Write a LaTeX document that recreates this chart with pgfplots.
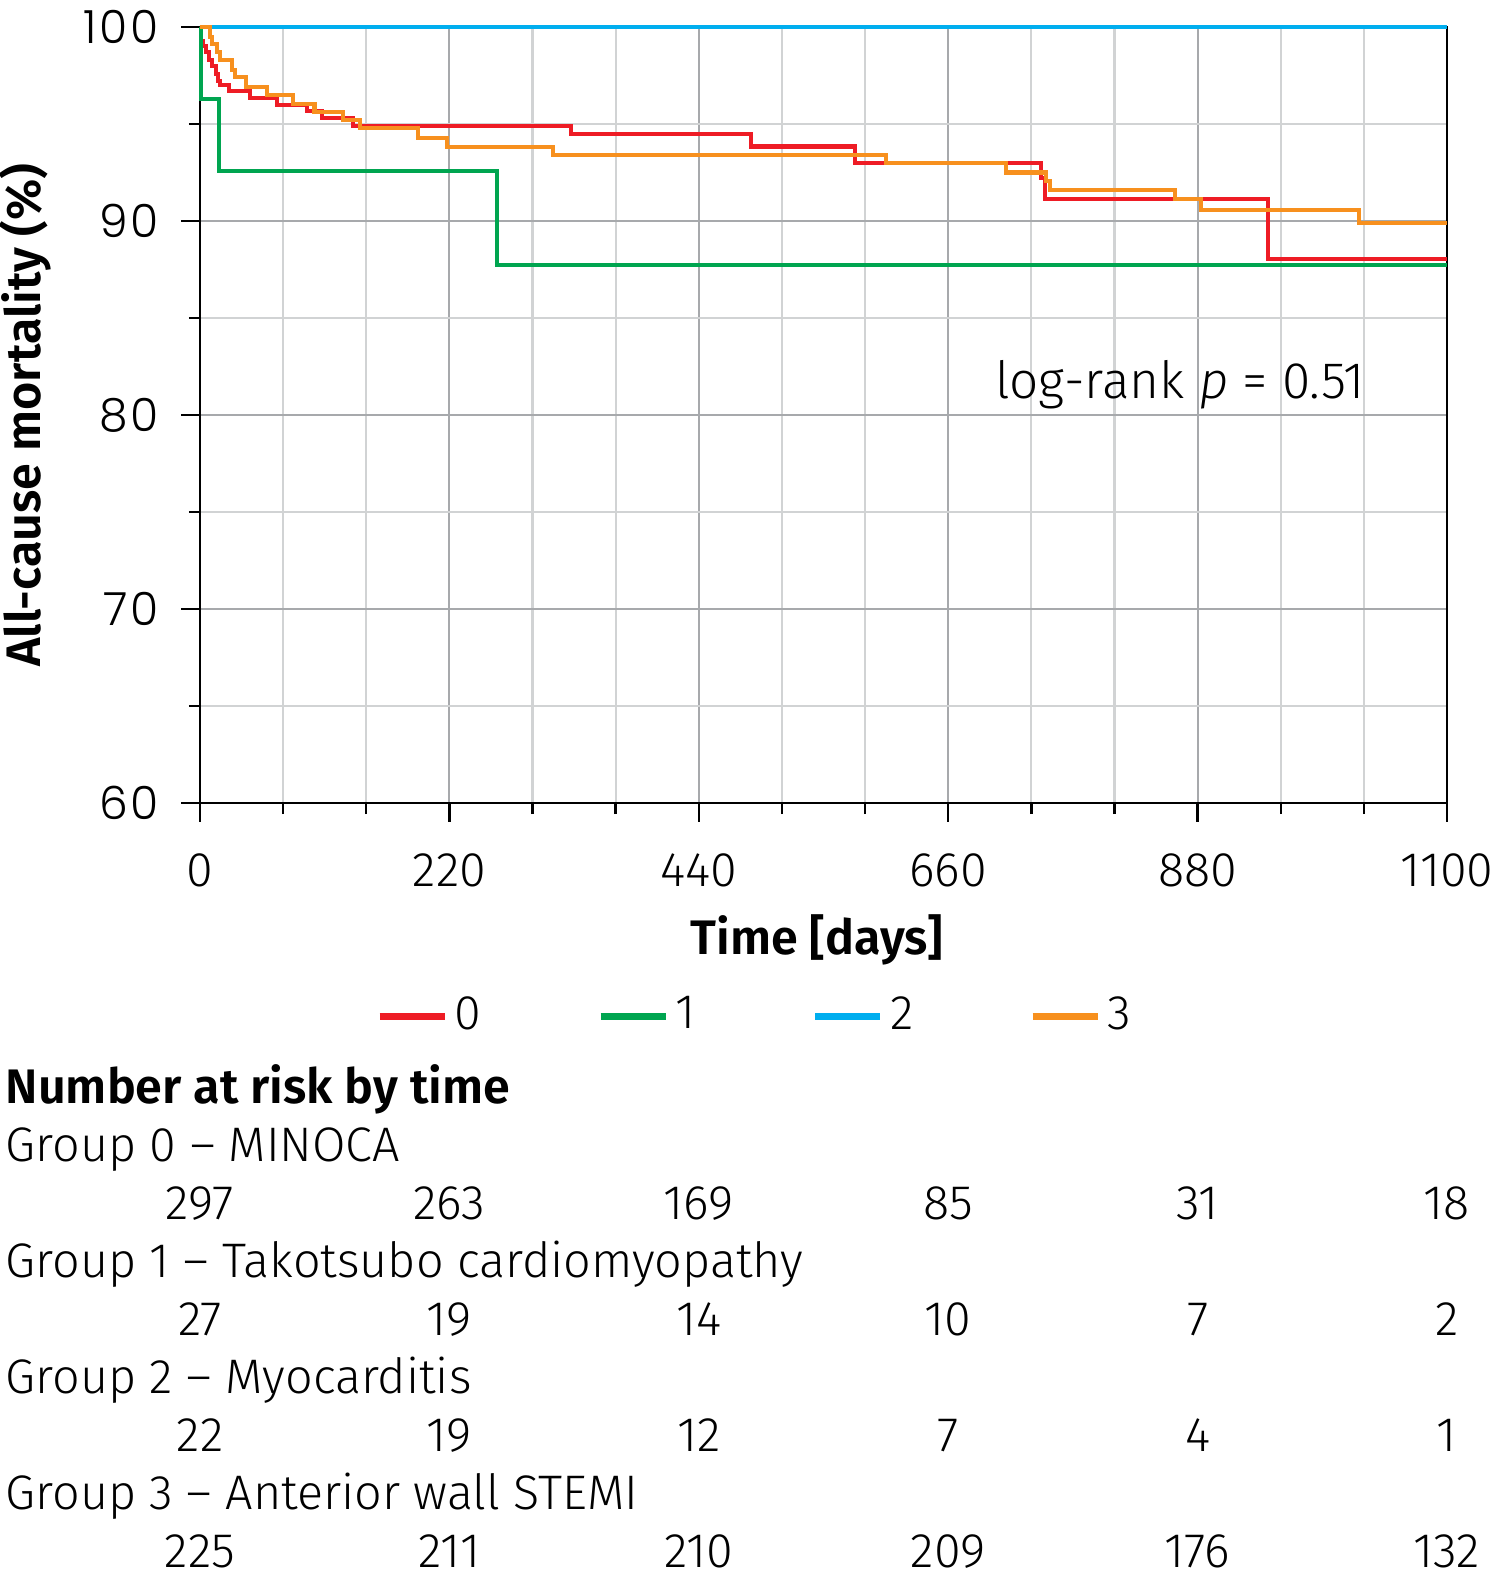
\documentclass[border=0pt]{standalone}
\usepackage{fontspec}
\setmainfont{Fira Sans Light}[BoldFont={Fira Sans SemiBold}, ItalicFont={Fira Sans Light Italic}]
\newfontfamily\ytfont{Poppins Light}[LetterSpace=6]
\usepackage{pgfplots}
\pgfplotsset{compat=1.18}
\definecolor{kmred}{HTML}{EE1C25}
\definecolor{kmgreen}{HTML}{00A550}
\definecolor{kmblue}{HTML}{00AEEF}
\definecolor{kmorange}{HTML}{F7901E}
\definecolor{gridmaj}{HTML}{A7A9AC}
\definecolor{gridmin}{HTML}{D1D3D4}
\begin{document}
\fontsize{13.8}{16}\selectfont
\begin{tikzpicture}
\useasboundingbox (0,0) rectangle (15cm,-15.69cm);
\clip (0,0) rectangle (15cm,-15.69cm);
\begin{axis}[
  at={(2.00cm,-0.27cm)}, anchor=north west,
  width=12.47cm, height=7.76cm, scale only axis,
  xmin=0, xmax=1100, ymin=60, ymax=100,
  clip=false,
  xtick={0,220,440,660,880,1100},
  minor xtick={73.333,146.667,293.333,366.667,513.333,586.667,733.333,806.667,953.333,1026.667},
  ytick={60,70,80,90,100},
  minor ytick={65,75,85,95},
  grid=both,
  major grid style={draw=gridmaj, line width=0.6pt},
  minor grid style={draw=gridmin, line width=0.6pt},
  tick align=outside, tick pos=left,
  major tick length=0.185cm, minor tick length=0.11cm,
  axis line style={line width=0.7pt, black},
  every tick/.style={black, line width=0.7pt},
  /pgf/number format/assume math mode=true,
  /pgf/number format/1000 sep={},
  xticklabel style={yshift=-0.15cm},
  yticklabel style={font=\ytfont\fontsize{13}{15}\selectfont, xshift=-0.06cm},
  xlabel={\bfseries Time [days]},
  xlabel style={at={(axis description cs:0.4948,-0.1765)}, anchor=center},
  ylabel={\bfseries All-cause mortality (\%)},
  ylabel style={at={(axis description cs:-0.1403,0.5)}, anchor=center},
  legend columns=4,
  legend style={draw=none, fill=none, at={(axis description cs:0.447,-0.275)}, anchor=center,
    /tikz/every even column/.append style={column sep=1.09cm}},
  legend image code/.code={\draw[#1, line width=1.8pt] (0cm,0cm) -- (0.65cm,0cm);},
]
\addplot[const plot, color=kmred, line width=1.15pt] coordinates {
(0,100) (1,99.3) (3,99.0) (5,98.7) (8,98.3) (11,98.0) (14,97.6) (16,97.2) (17.6,97.0)
(26,96.7) (44,96.35) (68,96.0) (94,95.65) (108,95.3) (135,94.9) (327,94.47) (486,93.84)
(578,92.99) (742,92.2) (745,91.14) (942,88.04) (1100,88.04)};
\addlegendentry{0}
\addplot[const plot, color=kmgreen, line width=1.15pt] coordinates {
(0,100) (1,96.3) (17,92.6) (262,87.72) (1100,87.72)};
\addlegendentry{1}
\addplot[const plot, color=kmblue, line width=1.15pt] coordinates {
(0,100) (1100,100)};
\addlegendentry{2}
\addplot[const plot, color=kmorange, line width=1.15pt] coordinates {
(0,100) (9,99.5) (11,99.1) (15,98.7) (17.6,98.3) (28,97.8) (31,97.4) (41,96.92) (59,96.5)
(82,96.03) (101,95.64) (126,95.2) (141,94.78) (192,94.3) (218,93.8) (311,93.4) (605,92.99)
(711,92.5) (746,92.05) (750,91.6) (860,91.14) (883,90.56) (1022,89.91) (1100,89.91)};
\addlegendentry{3}
\node[anchor=west, inner sep=0pt, font=\fontsize{14.6}{17}\selectfont] at (axis cs:701,81.55) {log-rank \textit{p} = 0.51};
\end{axis}
\begin{scope}[every node/.style={inner sep=0pt}]
\node[anchor=base west] at (0.05cm,-11.03cm) {\bfseries Number at risk by time};
\node[anchor=base west] at (0.05cm,-11.61cm) {Group 0 – MINOCA};
\node[anchor=base west] at (0.05cm,-12.77cm) {Group 1 – Takotsubo cardiomyopathy};
\node[anchor=base west] at (0.05cm,-13.93cm) {Group 2 – Myocarditis};
\node[anchor=base west] at (0.05cm,-15.09cm) {Group 3 – Anterior wall STEMI};
\foreach \x/\a/\b/\c/\d in {2.00/297/27/22/225, 4.494/263/19/19/211, 6.988/169/14/12/210, 9.482/85/10/7/209, 11.976/31/7/4/176, 14.47/18/2/1/132}{
  \node[anchor=base] at (\x cm,-12.19cm) {\a};
  \node[anchor=base] at (\x cm,-13.35cm) {\b};
  \node[anchor=base] at (\x cm,-14.51cm) {\c};
  \node[anchor=base] at (\x cm,-15.67cm) {\d};
}
\end{scope}
\end{tikzpicture}
\end{document}
